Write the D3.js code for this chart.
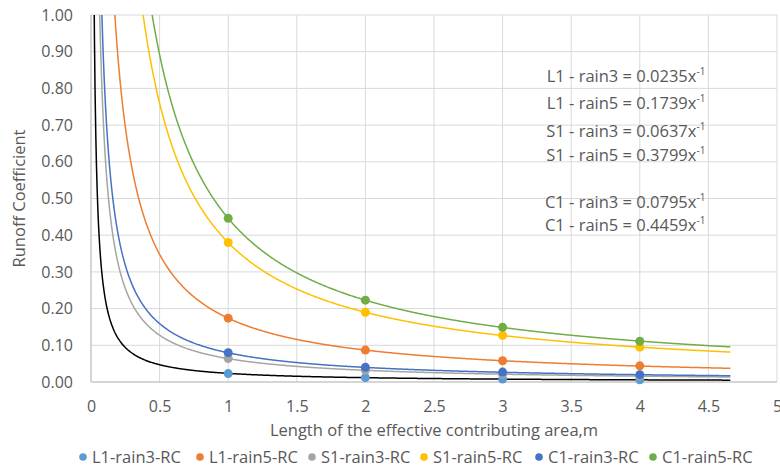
<!DOCTYPE html>
<html>
<head>
<meta charset="utf-8">
<script src="https://cdn.jsdelivr.net/npm/d3@7"></script>
<style>
  body { margin: 0; background: #fff; }
  text { font-family: "Open Sans", sans-serif; fill: #595959; }
</style>
</head>
<body>
<div id="chart"></div>
<script>
// data
const xs = [1, 2, 3, 4];
const seriesNames = ["L1-rain3-RC", "L1-rain5-RC", "S1-rain3-RC", "S1-rain5-RC", "C1-rain3-RC", "C1-rain5-RC"];
const L1rain3 = [0.023, 0.012, 0.008, 0.006];
const L1rain5 = [0.174, 0.087, 0.058, 0.044];
const S1rain3 = [0.064, 0.032, 0.021, 0.016];
const S1rain5 = [0.380, 0.190, 0.127, 0.095];
const C1rain3 = [0.080, 0.040, 0.027, 0.020];
const C1rain5 = [0.446, 0.223, 0.149, 0.111];
const markerColors = ["#5B9BD5", "#ED7D31", "#A5A5A5", "#FFC000", "#4472C4", "#70AD47"];
// power trendlines y = a x^-1
const trendCoef = [0.0235, 0.1739, 0.0637, 0.3799, 0.0795, 0.4459];
const trendColors = ["#000000", "#ED7D31", "#A5A5A5", "#FFC000", "#4472C4", "#70AD47"];
const trendLabels = ["L1 - rain3 = 0.0235x", "L1 - rain5 = 0.1739x", "S1 - rain3 = 0.0637x",
                     "S1 - rain5 = 0.3799x", "C1 - rain3 = 0.0795x", "C1 - rain5 = 0.4459x"];
const trendLabelY = [0.817, 0.744, 0.668, 0.602, 0.474, 0.411];
const xTicks = [0, 0.5, 1, 1.5, 2, 2.5, 3, 3.5, 4, 4.5, 5];
const yTicks = d3.range(0, 1.0001, 0.1);

const values = [L1rain3, L1rain5, S1rain3, S1rain5, C1rain3, C1rain5];

const W = 780, H = 468;
const margin = {top: 15, right: 3, bottom: 86, left: 91};
const width = W - margin.left - margin.right,
      height = H - margin.top - margin.bottom;

const svg = d3.select("#chart").append("svg")
    .attr("width", W).attr("height", H);
const g = svg.append("g")
    .attr("transform", `translate(${margin.left},${margin.top})`);

const x = d3.scaleLinear().domain([0, 5]).range([0, width]);
const y = d3.scaleLinear().domain([0, 1]).range([height, 0]);

// grid
g.selectAll(".hgrid").data(yTicks).join("line")
    .attr("x1", 0).attr("x2", width)
    .attr("y1", d => y(d)).attr("y2", d => y(d))
    .attr("stroke", "#d9d9d9").attr("stroke-width", 1);
g.selectAll(".vgrid").data(xTicks).join("line")
    .attr("x1", d => x(d)).attr("x2", d => x(d))
    .attr("y1", 0).attr("y2", height)
    .attr("stroke", "#d9d9d9").attr("stroke-width", 1);
// axis lines
g.append("line").attr("x1", 0).attr("x2", width).attr("y1", height).attr("y2", height)
    .attr("stroke", "#bfbfbf");
g.append("line").attr("x1", 0).attr("x2", 0).attr("y1", 0).attr("y2", height)
    .attr("stroke", "#bfbfbf");

// tick labels
const xAxis = g.append("g").attr("transform", `translate(0,${height})`)
    .call(d3.axisBottom(x).tickValues(xTicks).tickSize(0).tickPadding(19).tickFormat(d3.format("")));
const yAxis = g.append("g")
    .call(d3.axisLeft(y).tickValues(yTicks).tickSize(0).tickPadding(18).tickFormat(d3.format(".2f")));
[xAxis, yAxis].forEach(a => {
    a.select(".domain").remove();
    a.selectAll("text").style("font-size", "16px").style("fill", "#595959")
        .style("font-family", "'Open Sans', sans-serif");
});

// trendlines
g.append("clipPath").attr("id", "clip").append("rect")
    .attr("width", width).attr("height", height);
const xs_line = d3.range(0.015, 4.66, 0.005);
const line = d3.line().x(d => x(d[0])).y(d => y(d[1]));
trendCoef.forEach((a, i) => {
    g.append("path")
        .attr("clip-path", "url(#clip)")
        .attr("d", line(xs_line.map(v => [v, Math.min(a / v, 1.5)])))
        .attr("fill", "none")
        .attr("stroke", trendColors[i])
        .attr("stroke-width", 1.5);
});

// markers
values.forEach((vals, i) => {
    g.selectAll(".m" + i).data(vals).join("circle")
        .attr("cx", (d, j) => x(xs[j])).attr("cy", d => y(d))
        .attr("r", 4.5).attr("fill", markerColors[i]);
});

// trend equations
trendLabels.forEach((t, i) => {
    const txt = g.append("text")
        .attr("x", x(4.5) - 3).attr("y", y(trendLabelY[i]))
        .attr("text-anchor", "end")
        .style("font-size", "16.5px");
    txt.append("tspan").text(t);
    txt.append("tspan").text("-1").attr("dy", -7).style("font-size", "10px");
});

// axis titles
svg.append("text")
    .attr("x", margin.left + x(2.5)).attr("y", 436)
    .attr("text-anchor", "middle").style("font-size", "16.5px")
    .text("Length of the effective contributing area,m");
svg.append("text")
    .attr("transform", `translate(25,${margin.top + height / 2}) rotate(-90)`)
    .attr("text-anchor", "middle").style("font-size", "16.5px")
    .text("Runoff Coefficient");

// legend
const legendX = [83, 200, 312, 424, 539, 653];
const legend = svg.selectAll(".leg").data(seriesNames).join("g")
    .attr("transform", (d, i) => `translate(${legendX[i]},457)`);
legend.append("circle").attr("r", 3.8).attr("fill", (d, i) => markerColors[i]);
legend.append("text").attr("x", 9).attr("y", 5.5)
    .style("font-size", "16.5px").text(d => d);
</script>
</body>
</html>
